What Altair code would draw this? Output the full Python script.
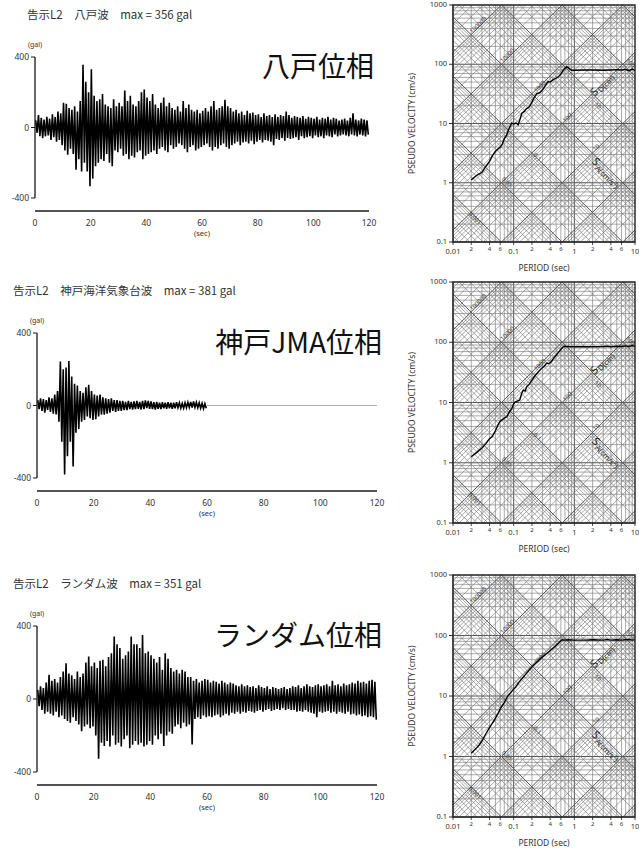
import math
import altair as alt
import pandas as pd

# ---------------------------------------------------------------- data
TITLES = [
    "告示L2　八戸波　max = 356 gal",
    "告示L2　神戸海洋気象台波　max = 381 gal",
    "告示L2　ランダム波　max = 351 gal",
]
PHASE_LABELS = ["八戸位相", "神戸JMA位相", "ランダム位相"]

TIME_TICKS = [0, 20, 40, 60, 80, 100, 120]
GAL_TICKS = [-400, 0, 400]

# per-second upper / lower peak accelerations (gal)
HACHI_HI = [40, 70, 55, 45, 60, 50, 75, 60, 90, 80,
            140, 135, 110, 100, 120, 90, 150, 356, 260, 200,
            330, 180, 150, 160, 190, 130, 120, 110, 160, 120,
            140, 120, 210, 150, 180, 130, 120, 150, 200, 215,
            170, 150, 190, 130, 110, 140, 170, 120, 140, 110,
            100, 120, 90, 150, 110, 130, 100, 90, 100, 80,
            95, 110, 90, 120, 150, 100, 110, 120, 157, 120,
            110, 90, 100, 80, 90, 70, 95, 80, 85, 70,
            75, 60, 80, 65, 70, 60, 75, 60, 70, 65,
            90, 70, 55, 65, 60, 55, 65, 50, 60, 55,
            50, 60, 45, 55, 50, 60, 45, 55, 50, 40,
            45, 50, 40, 55, 80, 45, 40, 50, 45, 40]
HACHI_LO = [-30, -50, -60, -50, -45, -70, -55, -80, -70, -100,
            -130, -155, -120, -150, -240, -180, -250, -200, -250, -333,
            -290, -220, -200, -180, -190, -150, -200, -220, -130, -140,
            -120, -160, -150, -180, -160, -170, -140, -130, -180, -160,
            -150, -140, -130, -150, -120, -110, -130, -140, -100, -120,
            -110, -90, -100, -120, -140, -110, -100, -130, -120, -110,
            -100, -90, -110, -130, -110, -120, -100, -90, -110, -120,
            -100, -90, -80, -100, -85, -80, -90, -75, -95, -80,
            -70, -85, -70, -75, -80, -100, -65, -70, -60, -75,
            -60, -65, -60, -55, -70, -50, -60, -55, -50, -60,
            -45, -55, -50, -60, -45, -50, -55, -40, -50, -45,
            -40, -45, -50, -40, -45, -50, -40, -45, -50, -40]

KOBE_HI = [30, 40, 35, 30, 45, 40, 60, 80, 243, 200,
           210, 245, 160, 120, 110, 80, 70, 100, 114, 80,
           60, 55, 60, 45, 40, 35, 40, 30, 30, 25,
           25, 20, 25, 20, 22, 25, 20, 25, 28, 25,
           22, 18, 20, 15, 18, 15, 18, 15, 15, 18,
           15, 12, 15, 18, 20, 22, 18, 15, 12, 10]
KOBE_LO = [-20, -30, -40, -25, -35, -45, -50, -90, -200, -381,
           -280, -200, -337, -150, -130, -90, -80, -60, -70, -80,
           -75, -60, -50, -50, -45, -40, -30, -35, -30, -30,
           -25, -25, -20, -22, -20, -18, -22, -20, -15, -18,
           -20, -22, -18, -20, -15, -18, -15, -18, -15, -12,
           -15, -15, -12, -10, -12, -10, -12, -15, -18, -15]
KOBE_RECORD_END = 60      # sec, the trace is flat after this
RECORD_LENGTH = 120       # sec

RAND_HI = [50, 70, 60, 90, 133, 100, 110, 90, 120, 150,
           196, 140, 130, 110, 150, 120, 140, 200, 233, 180,
           200, 170, 210, 215, 180, 230, 250, 342, 300, 280,
           220, 240, 260, 342, 300, 300, 280, 351, 250, 260,
           240, 220, 200, 230, 160, 251, 220, 170, 150, 160,
           140, 160, 150, 120, 120, 100, 110, 90, 100, 110,
           105, 90, 100, 95, 85, 100, 90, 80, 90, 85,
           75, 70, 80, 70, 75, 65, 70, 60, 75, 65,
           60, 70, 55, 65, 60, 55, 60, 65, 55, 60,
           70, 65, 75, 60, 70, 80, 70, 65, 75, 80,
           70, 75, 80, 70, 100, 75, 80, 70, 85, 75,
           80, 90, 85, 100, 90, 95, 85, 100, 105, 95]
RAND_LO = [-40, -60, -80, -70, -80, -90, -70, -100, -90, -110,
           -120, -130, -100, -120, -140, -176, -150, -140, -160, -150,
           -200, -327, -240, -258, -230, -260, -200, -250, -240, -260,
           -220, -200, -270, -250, -230, -250, -240, -260, -250, -230,
           -250, -200, -220, -190, -258, -200, -180, -190, -150, -140,
           -160, -130, -150, -140, -249, -110, -100, -110, -90, -100,
           -95, -100, -90, -85, -100, -90, -80, -90, -75, -80,
           -70, -80, -70, -75, -65, -70, -75, -65, -60, -70,
           -60, -55, -65, -60, -55, -60, -50, -60, -55, -60,
           -60, -70, -65, -70, -60, -70, -75, -80, -100, -70,
           -75, -70, -65, -75, -70, -80, -70, -75, -80, -70,
           -85, -80, -90, -85, -95, -90, -100, -95, -100, -113]

# pseudo velocity response spectra (period s, Sv cm/s)
SPEC1_T = [0.02, 0.025, 0.03, 0.035, 0.04, 0.045, 0.05, 0.055, 0.06, 0.065,
           0.07, 0.077, 0.085, 0.093, 0.1, 0.11, 0.119, 0.128, 0.136, 0.15,
           0.16, 0.18, 0.2, 0.22, 0.24, 0.27, 0.3, 0.33, 0.37, 0.4,
           0.45, 0.5, 0.55, 0.6, 0.65, 0.7, 0.75, 0.8, 0.9, 1.0,
           1.5, 2, 3, 4, 5, 6, 7, 8, 9, 10]
SPEC1_SV = [1.12, 1.35, 1.5, 1.9, 2.3, 2.9, 3.4, 3.7, 4.0, 4.5,
            5.5, 6.5, 8.5, 10.1, 9.8, 10.2, 9.5, 12, 14.8, 16,
            17.5, 19, 23, 28, 32, 33, 37, 43, 51, 50,
            55, 58, 62, 68, 78, 85, 91, 87, 79, 79,
            80, 80, 79, 80, 81, 80, 82, 78, 83, 79]
SPEC2_T = [0.02, 0.025, 0.03, 0.035, 0.04, 0.044, 0.05, 0.055, 0.059, 0.065,
           0.07, 0.077, 0.085, 0.093, 0.1, 0.105, 0.115, 0.126, 0.135, 0.144,
           0.155, 0.163, 0.18, 0.198, 0.22, 0.24, 0.26, 0.29, 0.32, 0.35,
           0.38, 0.42, 0.46, 0.51, 0.56, 0.6, 0.66, 0.74, 0.9, 1.0,
           1.5, 2, 3, 3.5, 4, 5, 6, 7, 8, 9, 10]
SPEC2_SV = [1.26, 1.5, 1.75, 2.1, 2.5, 2.7, 3.4, 4.2, 4.8, 5.2,
            5.5, 5.8, 7.0, 7.9, 9.5, 10.2, 10.5, 11, 14, 16,
            15.5, 18, 20, 23, 27, 30, 33, 37, 40, 45,
            44, 48, 55, 62, 70, 76, 85, 85, 84, 84,
            84, 84, 85, 86, 84, 86, 85, 87, 85, 88, 85]
SPEC3_T = [0.02, 0.023, 0.027, 0.031, 0.035, 0.04, 0.048, 0.055, 0.061, 0.07,
           0.079, 0.09, 0.1, 0.108, 0.12, 0.135, 0.147, 0.17, 0.2, 0.24,
           0.28, 0.33, 0.38, 0.43, 0.49, 0.55, 0.6, 0.63, 0.7, 0.8,
           1.0, 1.5, 2, 3, 3.5, 4, 5, 6, 7, 8, 9, 10]
SPEC3_SV = [1.13, 1.3, 1.55, 1.9, 2.4, 3.0, 4.0, 5.1, 6.3, 7.8,
            9.8, 11.5, 13, 14.1, 16.5, 19, 21, 25, 30.5, 36,
            42, 48, 54, 60, 67, 75, 82, 85, 84, 85,
            84, 84, 85, 84, 86, 84, 85, 84, 85, 86, 84, 85]

SV_TICKS = [0.1, 1, 10, 100, 1000]
SV_TICK_LABELS = ["0.1", "1", "10", "100", "1000"]
T_MAJOR = [0.01, 0.1, 1, 10]
T_MAJOR_LABELS = ["0.01", "0.1", "1", "10"]
T_MINOR = [0.02, 0.04, 0.06, 0.2, 0.4, 0.6, 2, 4, 6]
T_MINOR_LABELS = ["2", "4", "6", "2", "4", "6", "2", "4", "6"]

# tripartite grid: multiples within each decade
GRID_MULT = [1, 2, 3, 4, 5, 6, 7, 8, 9]
# labels of the diagonal lines and where they sit (period, Sv)
SA_LABELS = ["100000", "10000", "1000", "100", "10"]
SA_LABEL_T = [0.026, 0.079, 0.27, 0.77, 2.3]
SA_LABEL_SV = [460, 140, 42, 12.5, 3.9]
SD_LABELS = ["0.001", "0.01", "0.1", "10", "100"]
SD_LABEL_T = [0.023, 0.077, 0.245, 2.45, 8.3]
SD_LABEL_SV = [0.25, 1.02, 2.7, 20, 105]
SA_TITLE_POS = (2.05, 2.4)
SD_TITLE_POS = (2.0, 31)

# ---------------------------------------------------------------- layout
TIME_LAYOUT = [
    {"x": [35, 369], "y": [198, 57], "title_dx": -8},
    {"x": [37, 377], "y": [478, 333], "title_dx": -24},
    {"x": [37, 377], "y": [772, 626], "title_dx": -24},
]
SPEC_LAYOUT = [
    {"x": [453, 635], "y": [242, 5]},
    {"x": [453, 635], "y": [523, 282]},
    {"x": [453, 635], "y": [817, 575]},
]

LATIN = "Noto Sans"
CJK = "Noto Sans CJK JP"
INK = "#1a1a1a"
GRID = "#7c7c7c"
GRID_MAJOR = "#555555"


def time_panel(i, hi, lo, end=None):
    lay = TIME_LAYOUT[i]
    xs = alt.Scale(domain=[0, RECORD_LENGTH], range=lay["x"], nice=False, zero=False)
    ys = alt.Scale(domain=[-400, 400], range=lay["y"], nice=False, zero=False)
    X = alt.X("t:Q", scale=xs, axis=None)
    Y = alt.Y("a:Q", scale=ys, axis=None)

    pts = []
    for k, (h, l) in enumerate(zip(hi, lo)):
        pts.append({"t": k + 0.25, "a": h})
        pts.append({"t": k + 0.75, "a": l})
    wave = alt.Chart(pd.DataFrame(pts)).mark_line(
        color="#000000", strokeWidth=1.6).encode(x=X, y=Y)

    layers = [wave]
    if end is not None:
        flat = pd.DataFrame([{"t": end, "t2": RECORD_LENGTH, "a": 0}])
        layers.append(alt.Chart(flat).mark_rule(color="#9a9a9a", strokeWidth=0.8)
                      .encode(x=X, x2="t2:Q", y=Y))

    yaxis = pd.DataFrame([{"t": 0, "a": -400, "a2": 400}])
    layers.append(alt.Chart(yaxis).mark_rule(color=INK, strokeWidth=1.3)
                  .encode(x=X, y=Y, y2="a2:Q"))
    gt = pd.DataFrame({"t": 0, "t2": 0, "a": GAL_TICKS, "label": [str(v) for v in GAL_TICKS]})
    layers.append(alt.Chart(gt).mark_rule(color=INK, strokeWidth=1, xOffset=-4)
                  .encode(x=X, x2="t2:Q", y=Y))
    layers.append(alt.Chart(gt).mark_text(align="right", baseline="middle", dx=-6,
                                          font=LATIN, fontSize=8.5, color="#333")
                  .encode(x=X, y=Y, text="label:N"))
    xaxis = pd.DataFrame([{"t": 0, "t2": RECORD_LENGTH, "a": -400}])
    layers.append(alt.Chart(xaxis).mark_rule(color=INK, strokeWidth=1.3, yOffset=13)
                  .encode(x=X, x2="t2:Q", y=Y))
    xt = pd.DataFrame({"t": TIME_TICKS, "a": -400, "label": [str(v) for v in TIME_TICKS]})
    layers.append(alt.Chart(xt).mark_text(baseline="middle", dy=25, font=LATIN,
                                          fontSize=8.5, color="#333")
                  .encode(x=X, y=Y, text="label:N"))
    unit = pd.DataFrame([{"t": 60, "a": -400, "label": "(sec)"}])
    layers.append(alt.Chart(unit).mark_text(baseline="middle", dy=36, font=LATIN,
                                            fontSize=7.5, color="#333")
                  .encode(x=X, y=Y, text="label:N"))
    gal = pd.DataFrame([{"t": 0, "a": 400, "label": "(gal)"}])
    layers.append(alt.Chart(gal).mark_text(baseline="middle", dy=-12, font=LATIN,
                                           fontSize=7, color="#333")
                  .encode(x=X, y=Y, text="label:N"))
    ttl = pd.DataFrame([{"t": 0, "a": 400, "label": TITLES[i]}])
    layers.append(alt.Chart(ttl).mark_text(align="left", baseline="middle",
                                           dx=lay["title_dx"], dy=-41, font=CJK,
                                           fontSize=11.5, color="#333")
                  .encode(x=X, y=Y, text="label:N"))
    ph = pd.DataFrame([{"t": RECORD_LENGTH, "a": 400, "label": PHASE_LABELS[i]}])
    layers.append(alt.Chart(ph).mark_text(align="right", baseline="middle",
                                          dx=5, dy=12, font=CJK, fontSize=28,
                                          color="#111")
                  .encode(x=X, y=Y, text="label:N"))
    return alt.layer(*layers)


def sa_segment(sa):
    c = math.log10(sa / (2 * math.pi))
    lx0, lx1 = max(-2.0, -1.0 - c), min(1.0, 3.0 - c)
    if lx1 - lx0 < 1e-6:
        return None
    return (10 ** lx0, 10 ** (lx0 + c), 10 ** lx1, 10 ** (lx1 + c))


def sd_segment(sd):
    d = math.log10(2 * math.pi * sd)
    lx0, lx1 = max(-2.0, d - 3.0), min(1.0, d + 1.0)
    if lx1 - lx0 < 1e-6:
        return None
    return (10 ** lx0, 10 ** (d - lx0), 10 ** lx1, 10 ** (d - lx1))


def spec_panel(i, T, SV):
    lay = SPEC_LAYOUT[i]
    xs = alt.Scale(type="log", domain=[0.01, 10], range=lay["x"], nice=False)
    ys = alt.Scale(type="log", domain=[0.1, 1000], range=lay["y"], nice=False)
    X = alt.X("x:Q", scale=xs, axis=None)
    Y = alt.Y("y:Q", scale=ys, axis=None)

    vrows, hrows, drows = [], [], []
    for e in (-2, -1, 0):
        for m in GRID_MULT:
            vrows.append({"x": m * 10 ** e, "y": 0.1, "y2": 1000, "major": m == 1})
    for e in (-1, 0, 1, 2):
        for m in GRID_MULT:
            hrows.append({"x": 0.01, "x2": 10, "y": m * 10 ** e, "major": m == 1})
    for e in range(-2, 7):
        for m in GRID_MULT:
            s = sa_segment(m * 10 ** e)
            if s:
                drows.append({"x": s[0], "y": s[1], "x2": s[2], "y2": s[3], "major": m == 1})
    for e in range(-4, 4):
        for m in GRID_MULT:
            s = sd_segment(m * 10 ** e)
            if s:
                drows.append({"x": s[0], "y": s[1], "x2": s[2], "y2": s[3], "major": m == 1})
    vdf, hdf, ddf = pd.DataFrame(vrows), pd.DataFrame(hrows), pd.DataFrame(drows)

    col = alt.condition("datum.major", alt.value(GRID_MAJOR), alt.value(GRID))
    sw = alt.condition("datum.major", alt.value(1.0), alt.value(0.65))
    layers = [
        alt.Chart(vdf).mark_rule().encode(x=X, y=Y, y2="y2:Q", color=col, strokeWidth=sw),
        alt.Chart(hdf).mark_rule().encode(x=X, x2="x2:Q", y=Y, color=col, strokeWidth=sw),
        alt.Chart(ddf).mark_rule().encode(x=X, y=Y, x2="x2:Q", y2="y2:Q", color=col,
                                          strokeWidth=sw),
    ]

    # diagonal line labels
    sal = pd.DataFrame({"x": SA_LABEL_T, "y": SA_LABEL_SV, "label": SA_LABELS})
    layers.append(alt.Chart(sal).mark_text(angle=315, fontSize=6, font=LATIN, color="#333")
                  .encode(x=X, y=Y, text="label:N"))
    sdl = pd.DataFrame({"x": SD_LABEL_T, "y": SD_LABEL_SV, "label": SD_LABELS})
    layers.append(alt.Chart(sdl).mark_text(angle=45, fontSize=6, font=LATIN, color="#333")
                  .encode(x=X, y=Y, text="label:N"))
    sa_t = pd.DataFrame([{"x": SA_TITLE_POS[0], "y": SA_TITLE_POS[1], "s": "S",
                          "sub": "A(cm/s²)"}])
    layers.append(alt.Chart(sa_t).mark_text(angle=45, align="left", fontSize=11,
                                            font=LATIN, color="#222")
                  .encode(x=X, y=Y, text="s:N"))
    layers.append(alt.Chart(sa_t).mark_text(angle=45, align="left", dx=7, dy=3,
                                            fontSize=7.5, font=LATIN, color="#222")
                  .encode(x=X, y=Y, text="sub:N"))
    sd_t = pd.DataFrame([{"x": SD_TITLE_POS[0], "y": SD_TITLE_POS[1], "s": "S",
                          "sub": "D(cm)"}])
    layers.append(alt.Chart(sd_t).mark_text(angle=315, align="left", fontSize=11,
                                            font=LATIN, color="#222")
                  .encode(x=X, y=Y, text="s:N"))
    layers.append(alt.Chart(sd_t).mark_text(angle=315, align="left", dx=7, dy=3,
                                            fontSize=7.5, font=LATIN, color="#222")
                  .encode(x=X, y=Y, text="sub:N"))

    curve = pd.DataFrame({"x": T, "y": SV})
    layers.append(alt.Chart(curve).mark_line(color="#000", strokeWidth=1.4)
                  .encode(x=X, y=Y))
    frame = pd.DataFrame([{"x": 0.01, "x2": 10, "y": 0.1, "y2": 1000}])
    layers.append(alt.Chart(frame).mark_rect(filled=False, stroke="#222", strokeWidth=1.4)
                  .encode(x=X, x2="x2:Q", y=Y, y2="y2:Q"))

    yt = pd.DataFrame({"x": 0.01, "x2": 0.01, "y": SV_TICKS, "label": SV_TICK_LABELS})
    layers.append(alt.Chart(yt).mark_rule(color=INK, strokeWidth=0.9, xOffset=-4)
                  .encode(x=X, x2="x2:Q", y=Y))
    layers.append(alt.Chart(yt).mark_text(align="right", baseline="middle", dx=-6,
                                          font=LATIN, fontSize=7.5, color="#333")
                  .encode(x=X, y=Y, text="label:N"))
    xt_all = pd.DataFrame({"x": T_MAJOR + T_MINOR, "y": 0.1, "y2": 0.1})
    layers.append(alt.Chart(xt_all).mark_rule(color=INK, strokeWidth=0.8, y2Offset=3)
                  .encode(x=X, y=Y, y2="y2:Q"))
    xmaj = pd.DataFrame({"x": T_MAJOR, "y": 0.1, "label": T_MAJOR_LABELS})
    layers.append(alt.Chart(xmaj).mark_text(baseline="middle", dy=10, font=LATIN,
                                            fontSize=7.5, color="#333")
                  .encode(x=X, y=Y, text="label:N"))
    xmin = pd.DataFrame({"x": T_MINOR, "y": 0.1, "label": T_MINOR_LABELS})
    layers.append(alt.Chart(xmin).mark_text(baseline="middle", dy=7, font=LATIN,
                                            fontSize=6, color="#333")
                  .encode(x=X, y=Y, text="label:N"))
    xtitle = pd.DataFrame([{"x": 10 ** -0.5, "y": 0.1, "label": "PERIOD (sec)"}])
    layers.append(alt.Chart(xtitle).mark_text(baseline="middle", dy=26, font=LATIN,
                                              fontSize=8.5, color="#333")
                  .encode(x=X, y=Y, text="label:N"))
    ytitle = pd.DataFrame([{"x": 0.01, "y": 10, "label": "PSEUDO VELOCITY (cm/s)"}])
    layers.append(alt.Chart(ytitle).mark_text(baseline="middle", angle=270,
                                              dy=-41, font=LATIN, fontSize=8.5,
                                              color="#333")
                  .encode(x=X, y=Y, text="label:N"))
    return alt.layer(*layers)


panels = [
    time_panel(0, HACHI_HI, HACHI_LO),
    time_panel(1, KOBE_HI, KOBE_LO, end=KOBE_RECORD_END),
    time_panel(2, RAND_HI, RAND_LO),
    spec_panel(0, SPEC1_T, SPEC1_SV),
    spec_panel(1, SPEC2_T, SPEC2_SV),
    spec_panel(2, SPEC3_T, SPEC3_SV),
]

chart = (
    alt.layer(*panels)
    .resolve_scale(x="independent", y="independent")
    .properties(width=639, height=852, padding=0,
                autosize=alt.AutoSizeParams(type="none"), background="white")
    .configure_view(stroke=None)
)

chart.save("out.html", embed_options={"renderer": "svg", "actions": False})
